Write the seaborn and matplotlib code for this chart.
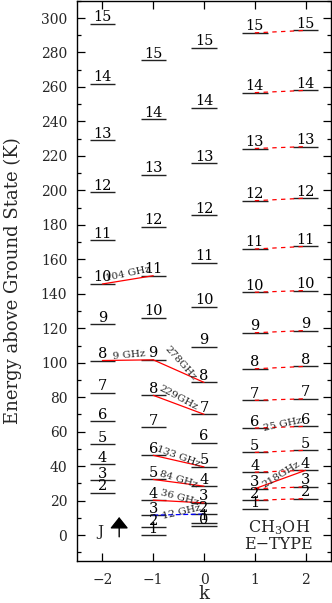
import numpy as np
import pandas as pd
import seaborn as sns
import matplotlib.pyplot as plt
from matplotlib.ticker import MultipleLocator

# level energies (K above ground state), one list per k ladder
J_km2 = list(range(2, 16))
E_km2 = [24.7, 31.7, 41.1, 52.7, 66.2, 82.6, 101.3, 122.2, 145.7, 171.2, 199.0, 229.0, 262.0, 296.6]
J_km1 = list(range(1, 16))
E_km1 = [0.0, 4.5, 11.6, 20.3, 32.3, 46.3, 62.7, 81.1, 101.7, 126.0, 150.5, 178.9, 209.0, 241.3, 275.4]
J_k0 = list(range(0, 16))
E_k0 = [5.2, 7.3, 12.2, 18.7, 28.4, 39.6, 53.7, 70.1, 88.6, 109.4, 132.6, 157.9, 185.7, 215.8, 248.0, 282.7]
J_k1 = list(range(1, 16))
E_k1 = [14.9, 20.2, 26.9, 36.5, 48.0, 62.1, 78.2, 96.5, 117.4, 140.9, 166.0, 194.0, 224.3, 256.7, 291.4]
J_k2 = list(range(2, 16))
E_k2 = [21.2, 28.0, 37.6, 49.2, 63.1, 79.1, 97.9, 118.7, 141.9, 167.5, 195.5, 225.4, 258.0, 292.8]

# transitions (k, J) -> (k, J)
red_from = [(-2, 8), (-2, 10), (-1, 9), (-1, 8), (-1, 6), (-1, 5), (-1, 4), (1, 3)]
red_to = [(-1, 9), (-1, 11), (0, 8), (0, 7), (0, 5), (0, 4), (0, 3), (2, 4)]
red_labels = ["9 GHz", "104 GHz", "278GHz", "229GHz", "133 GHz", "84 GHz", "36 GHz", "218GHz"]
blue_from = [(-1, 3)]
blue_to = [(0, 2)]
blue_labels = ["12 GHz"]
dash_J = list(range(2, 16))          # J_1 -> J_2 series
dash_label_J = 6
dash_label = "25 GHz"

# label styling: rotation (deg) and offset (points) from the line midpoint
red_rot = [5, 12, -48, -28, -20, -17, -15, 32]
red_off = [(1, 3.4), (0, 4.7), (1, 5.5), (0, 5), (0, 3.4), (0, 2.5), (1, 3.1), (1, 3.7)]
blue_rot = [13]
blue_off = [(2.5, 1.7)]
dash_rot = 12
dash_off = (2, 2.1)

ladders = {-2: (J_km2, E_km2), -1: (J_km1, E_km1), 0: (J_k0, E_k0),
           1: (J_k1, E_k1), 2: (J_k2, E_k2)}

levels = pd.DataFrame([(k, J, E) for k, (Js, Es) in ladders.items() for J, E in zip(Js, Es)],
                      columns=["k", "J", "E"])
lookup = {(r.k, r.J): r.E for r in levels.itertuples()}


def tr_frame(starts, ends):
    rows = []
    for i, (a, b) in enumerate(zip(starts, ends)):
        rows.append((i, a[0], lookup[a]))
        rows.append((i, b[0], lookup[b]))
    return pd.DataFrame(rows, columns=["id", "k", "E"])


red_df = tr_frame(red_from, red_to)
blue_df = tr_frame(blue_from, blue_to)
dash_df = tr_frame([(1, J) for J in dash_J], [(2, J) for J in dash_J])

sns.set_style("ticks")
plt.rcParams["font.family"] = ["DejaVu Serif"]
plt.rcParams["mathtext.fontset"] = "dejavuserif"

fig = plt.figure(figsize=(3.32, 6.03), dpi=100)
ax = fig.add_axes([0.232, 0.0697, 0.765, 0.929])

# energy levels
ax.hlines(levels["E"], levels["k"] - 0.25, levels["k"] + 0.25, color="#222222", lw=1.0, zorder=2)
for r in levels.itertuples():
    ax.annotate(str(r.J), (r.k, r.E), xytext=(0, 1.8), textcoords="offset points",
                ha="center", va="baseline", fontsize=10.5, color="black", zorder=4)

# transitions
sns.lineplot(data=red_df, x="k", y="E", units="id", estimator=None, sort=False,
             color="red", lw=0.9, ax=ax, zorder=3)
sns.lineplot(data=blue_df, x="k", y="E", units="id", estimator=None, sort=False,
             color="blue", lw=0.9, linestyle=(0, (4, 2)), ax=ax, zorder=3)
sns.lineplot(data=dash_df, x="k", y="E", units="id", estimator=None, sort=False,
             color="red", lw=0.9, linestyle=(0, (3.5, 3.5)), ax=ax, zorder=3)


def put_label(a, b, text, rot, off):
    xm = (a[0] + b[0]) / 2
    ym = (lookup[a] + lookup[b]) / 2
    ax.annotate(text, (xm, ym), xytext=off, textcoords="offset points", rotation=rot,
                rotation_mode="anchor", ha="center", va="center", fontsize=7.5, zorder=5)


for a, b, t, rot, off in zip(red_from, red_to, red_labels, red_rot, red_off):
    put_label(a, b, t, rot, off)
for a, b, t, rot, off in zip(blue_from, blue_to, blue_labels, blue_rot, blue_off):
    put_label(a, b, t, rot, off)
put_label((1, dash_label_J), (2, dash_label_J), dash_label, dash_rot, dash_off)

# J arrow and species label
ax.text(-2.04, -0.5, "J", ha="center", va="baseline", fontsize=11)
ax.annotate("", xy=(-1.67, 10.5), xytext=(-1.67, -1.0),
            arrowprops=dict(arrowstyle="-|>,head_length=0.35,head_width=0.28",
                            mutation_scale=20, shrinkA=0, shrinkB=0,
                            color="black", lw=1.0))
ax.text(1.47, 1.9, "CH$_3$OH", ha="center", va="baseline", fontsize=11.5)
ax.text(1.47, -8.1, "E\u2212TYPE", ha="center", va="baseline", fontsize=11.5)

ax.set_xlim(-2.5, 2.5)
ax.set_ylim(-15, 310)
ax.set_xticks([-2, -1, 0, 1, 2])
ax.set_xticklabels(["\u22122", "\u22121", "0", "1", "2"])
ax.yaxis.set_major_locator(MultipleLocator(20))
ax.yaxis.set_minor_locator(MultipleLocator(10))
ax.tick_params(axis="both", which="both", direction="in", top=True, right=True,
               color="black", labelsize=10, width=0.9)
ax.tick_params(axis="both", which="major", length=6)
ax.tick_params(axis="both", which="minor", length=3)
ax.tick_params(axis="y", pad=7)
ax.tick_params(axis="x", pad=9)
for s in ax.spines.values():
    s.set_color("black")
    s.set_linewidth(1.0)

ax.set_xlabel("k", fontsize=13)
ax.set_ylabel("Energy above Ground State (K)", fontsize=13)
ax.xaxis.set_label_coords(0.5, -0.043)
ax.yaxis.set_label_coords(-0.218, 0.5)

fig.savefig("out.png", dpi=100)
